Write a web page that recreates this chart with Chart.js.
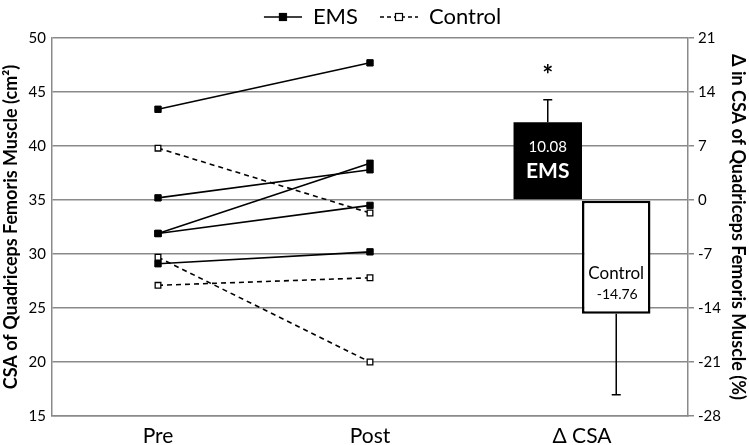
<!DOCTYPE html>
<html>
<head>
<meta charset="utf-8">
<script src="https://cdn.jsdelivr.net/npm/chart.js@4.4.1/dist/chart.umd.min.js"></script>
<style>
  html, body { margin: 0; padding: 0; background: #fff; }
  #wrap { width: 749px; height: 445px; }
</style>
</head>
<body>
<div id="wrap"><canvas id="chart"></canvas></div>
<script>
"use strict";

// data
const categories = ['Pre', 'Post', 'Δ CSA'];
const emsPre = [43.4, 35.2, 31.9, 31.9, 29.1];
const emsPost = [47.7, 37.8, 38.4, 34.5, 30.2];
const controlPre = [39.8, 29.7, 27.1];
const controlPost = [33.8, 20.0, 27.8];
const deltaNames = ['EMS', 'Control'];
const deltaValues = [10.08, -14.76];
const deltaErrors = [2.9, 10.5];
const starValue = 16.6;

const FONT = 'Lato, "Open Sans", sans-serif';
const GRID = '#8a8a8a';

// legend symbol: line with a square marker in the middle
function legendSymbol(dashed, filled) {
    const c = document.createElement('canvas');
    c.width = 54; c.height = 12;
    const g = c.getContext('2d');
    g.strokeStyle = '#000';
    g.lineWidth = 1.6;
    if (dashed) g.setLineDash([4, 3]);
    g.beginPath(); g.moveTo(16, 6); g.lineTo(54, 6); g.stroke();
    g.setLineDash([]);
    g.fillStyle = filled ? '#000' : '#fff';
    g.fillRect(31, 2, 8, 8);
    g.lineWidth = 1.2;
    g.strokeRect(31.5, 2.5, 7, 7);
    return c;
}

const datasets = [];
emsPre.forEach(function(v, i) {
    datasets.push({
        type: 'line', label: 'EMS', yAxisID: 'y', group: 'EMS',
        data: [v, emsPost[i], null],
        borderColor: '#000', borderWidth: 1.6,
        pointStyle: 'rect', pointRadius: 4.5,
        pointBackgroundColor: '#000', pointBorderColor: '#000', pointBorderWidth: 1,
        fill: false, order: 1
    });
});
controlPre.forEach(function(v, i) {
    datasets.push({
        type: 'line', label: 'Control', yAxisID: 'y', group: 'Control',
        data: [v, controlPost[i], null],
        borderColor: '#000', borderWidth: 1.6, borderDash: [5, 4],
        pointStyle: 'rect', pointRadius: 4,
        pointBackgroundColor: '#fff', pointBorderColor: '#000', pointBorderWidth: 1.3,
        fill: false, order: 0
    });
});
deltaValues.forEach(function(v, i) {
    datasets.push({
        type: 'bar', label: deltaNames[i], yAxisID: 'y1', group: 'bar',
        data: [null, null, v],
        backgroundColor: i === 0 ? '#000' : '#fff',
        borderColor: '#000', borderWidth: i === 0 ? 0 : 2.5,
        borderSkipped: false,
        categoryPercentage: 0.646, barPercentage: 1.0,
        errorValue: deltaErrors[i], order: 2
    });
});

// error bars, star, labels inside bars
const barExtras = {
    id: 'barExtras',
    afterDatasetsDraw(chart) {
        const ctx = chart.ctx;
        const y1 = chart.scales.y1;
        ctx.save();
        chart.data.datasets.forEach(function(ds, di) {
            if (ds.type !== 'bar') return;
            const el = chart.getDatasetMeta(di).data[2];
            const v = ds.data[2];
            const end = v + (v >= 0 ? ds.errorValue : -ds.errorValue);
            const yEnd = y1.getPixelForValue(end);
            ctx.strokeStyle = '#000';
            ctx.lineWidth = 1.5;
            ctx.beginPath();
            ctx.moveTo(el.x, el.y);
            ctx.lineTo(el.x, yEnd);
            ctx.moveTo(el.x - 4.5, yEnd);
            ctx.lineTo(el.x + 4.5, yEnd);
            ctx.stroke();

            ctx.textAlign = 'center';
            ctx.textBaseline = 'middle';
            if (v >= 0) {
                ctx.fillStyle = '#fff';
                ctx.font = '15px ' + FONT;
                ctx.fillText(v.toFixed(2), el.x, el.y + 25);
                ctx.font = 'bold 21px ' + FONT;
                ctx.fillText(ds.label, el.x, el.y + 49);
                ctx.fillStyle = '#000';
                ctx.font = 'bold 26px ' + FONT;
                ctx.fillText('*', el.x, y1.getPixelForValue(starValue) + 4);
            } else {
                ctx.fillStyle = '#000';
                ctx.font = '17px ' + FONT;
                ctx.fillText(ds.label, el.x, el.base + 73);
                ctx.font = '14px ' + FONT;
                ctx.fillText(v.toFixed(2), el.x + 1, el.base + 94);
            }
        });
        ctx.restore();
    }
};

const symbols = { EMS: legendSymbol(false, true), Control: legendSymbol(true, false) };

new Chart(document.getElementById('chart'), {
    type: 'bar',
    data: { labels: categories, datasets: datasets },
    plugins: [barExtras],
    options: {
        responsive: true,
        maintainAspectRatio: false,
        animation: false,
        layout: { padding: { top: 0, bottom: 0, left: 0, right: 0 } },
        plugins: {
            tooltip: { enabled: false },
            legend: {
                position: 'top',
                labels: {
                    usePointStyle: true,
                    pointStyleWidth: 54,
                    padding: 6,
                    color: '#000',
                    font: { family: FONT, size: 22 },
                    generateLabels: function(chart) {
                        return ['EMS', 'Control'].map(function(name) {
                            return { text: name, pointStyle: symbols[name], fillStyle: '#fff',
                                     strokeStyle: '#000', lineWidth: 0, hidden: false };
                        });
                    }
                },
                onClick: function() {}
            }
        },
        scales: {
            x: {
                grid: { display: false },
                border: { color: GRID, width: 1.5 },
                ticks: { color: '#000', font: { family: FONT, size: 21 }, padding: 0 },
                afterFit: function(s) { s.height = 29; }
            },
            y: {
                position: 'left',
                min: 15, max: 50,
                ticks: { stepSize: 5, color: '#000', font: { family: FONT, size: 15 }, padding: 6 },
                grid: { color: GRID, lineWidth: 1.5, drawTicks: false },
                border: { color: GRID, width: 1.5 },
                title: { display: true, text: 'CSA of Quadriceps Femoris Muscle (cm²)', color: '#000',
                         font: { family: FONT, size: 18, weight: 'bold' }, padding: 0 },
                afterFit: function(s) { s.width = 52; }
            },
            y1: {
                position: 'right',
                min: -28, max: 21,
                ticks: { stepSize: 7, color: '#000', font: { family: FONT, size: 15 }, padding: 4 },
                grid: { drawOnChartArea: false, color: GRID, lineWidth: 1.5, tickLength: 6 },
                border: { color: GRID, width: 1.5 },
                title: { display: true, text: 'Δ in CSA of Quadriceps Femoris Muscle (%)', color: '#000',
                         font: { family: FONT, size: 18, weight: 'bold' }, padding: 0 },
                afterFit: function(s) { s.width = 61; }
            }
        }
    }
});
</script>
</body>
</html>
